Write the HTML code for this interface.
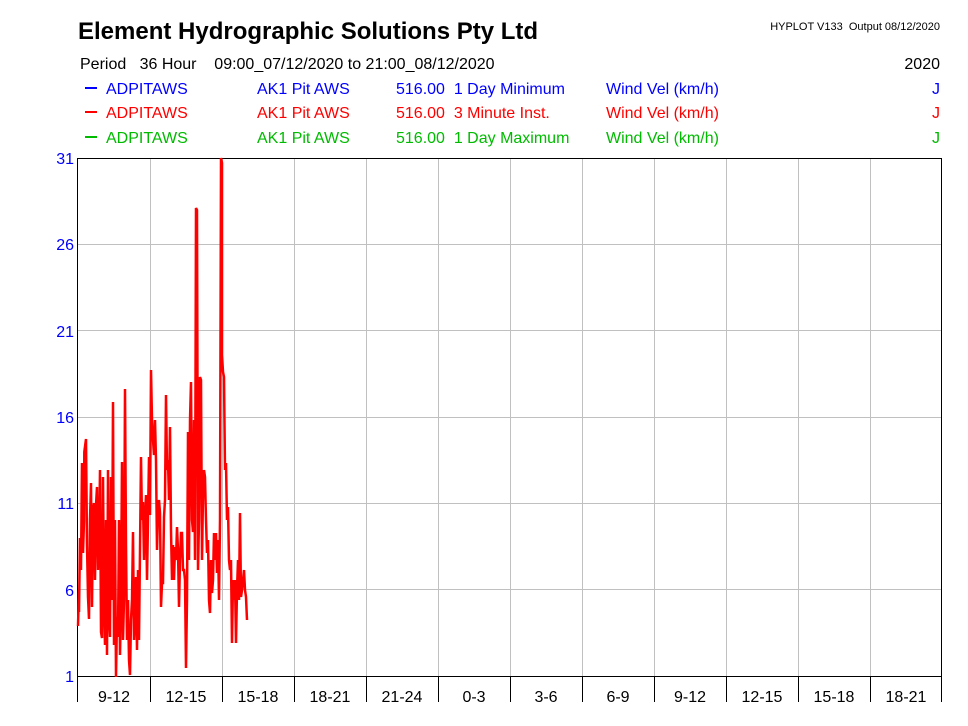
<!DOCTYPE html>
<html><head><meta charset="utf-8"><style>
body{margin:0;background:#fff;width:968px;height:726px;overflow:hidden}
svg{display:block}
text{font-family:"Liberation Sans",Arial,sans-serif;white-space:pre}
</style></head><body>
<svg width="968" height="726" viewBox="0 0 968 726" xmlns="http://www.w3.org/2000/svg" xml:space="preserve">
<text x="78" y="39" font-size="24" font-weight="bold" fill="#000">Element Hydrographic Solutions Pty Ltd</text>
<text x="940" y="30" font-size="11" fill="#000" text-anchor="end">HYPLOT V133  Output 08/12/2020</text>
<text x="80" y="69" font-size="16" fill="#000">Period   36 Hour    09:00_07/12/2020 to 21:00_08/12/2020</text>
<text x="940" y="69" font-size="16" fill="#000" text-anchor="end">2020</text>
<g font-size="16">
<line x1="85" y1="88" x2="97" y2="88" stroke="#0000ff" stroke-width="2"/>
<text x="106" y="94" fill="#0000ff">ADPITAWS</text><text x="257" y="94" fill="#0000ff">AK1 Pit AWS</text><text x="396" y="94" fill="#0000ff">516.00  1 Day Minimum</text><text x="606" y="94" fill="#0000ff">Wind Vel (km/h)</text><text x="940" y="94" fill="#0000ff" text-anchor="end">J</text>
<line x1="85" y1="112" x2="97" y2="112" stroke="#ff0000" stroke-width="2"/>
<text x="106" y="118" fill="#ff0000">ADPITAWS</text><text x="257" y="118" fill="#ff0000">AK1 Pit AWS</text><text x="396" y="118" fill="#ff0000">516.00  3 Minute Inst.</text><text x="606" y="118" fill="#ff0000">Wind Vel (km/h)</text><text x="940" y="118" fill="#ff0000" text-anchor="end">J</text>
<line x1="85" y1="137" x2="97" y2="137" stroke="#00bb00" stroke-width="2"/>
<text x="106" y="143" fill="#00bb00">ADPITAWS</text><text x="257" y="143" fill="#00bb00">AK1 Pit AWS</text><text x="396" y="143" fill="#00bb00">516.00  1 Day Maximum</text><text x="606" y="143" fill="#00bb00">Wind Vel (km/h)</text><text x="940" y="143" fill="#00bb00" text-anchor="end">J</text>
</g>
<g stroke="#c0c0c0" stroke-width="1">
<line x1="78" y1="244.5" x2="941" y2="244.5"/><line x1="78" y1="330.5" x2="941" y2="330.5"/><line x1="78" y1="417.5" x2="941" y2="417.5"/><line x1="78" y1="503.5" x2="941" y2="503.5"/><line x1="78" y1="589.5" x2="941" y2="589.5"/>
<line x1="150.5" y1="158" x2="150.5" y2="676"/><line x1="222.5" y1="158" x2="222.5" y2="676"/><line x1="294.5" y1="158" x2="294.5" y2="676"/><line x1="366.5" y1="158" x2="366.5" y2="676"/><line x1="438.5" y1="158" x2="438.5" y2="676"/><line x1="510.5" y1="158" x2="510.5" y2="676"/><line x1="582.5" y1="158" x2="582.5" y2="676"/><line x1="654.5" y1="158" x2="654.5" y2="676"/><line x1="726.5" y1="158" x2="726.5" y2="676"/><line x1="798.5" y1="158" x2="798.5" y2="676"/><line x1="870.5" y1="158" x2="870.5" y2="676"/>
</g>
<g stroke="#000" stroke-width="1">
<line x1="77.5" y1="158" x2="77.5" y2="702"/><line x1="941.5" y1="158" x2="941.5" y2="702"/>
<line x1="77" y1="158.5" x2="942" y2="158.5"/><line x1="77" y1="676.5" x2="942" y2="676.5"/>
<line x1="150.5" y1="676" x2="150.5" y2="702"/><line x1="222.5" y1="676" x2="222.5" y2="702"/><line x1="294.5" y1="676" x2="294.5" y2="702"/><line x1="366.5" y1="676" x2="366.5" y2="702"/><line x1="438.5" y1="676" x2="438.5" y2="702"/><line x1="510.5" y1="676" x2="510.5" y2="702"/><line x1="582.5" y1="676" x2="582.5" y2="702"/><line x1="654.5" y1="676" x2="654.5" y2="702"/><line x1="726.5" y1="676" x2="726.5" y2="702"/><line x1="798.5" y1="676" x2="798.5" y2="702"/><line x1="870.5" y1="676" x2="870.5" y2="702"/>
</g>
<g font-size="16" fill="#0000ff" text-anchor="end">
<text x="74" y="164">31</text><text x="74" y="250">26</text><text x="74" y="337">21</text><text x="74" y="423">16</text><text x="74" y="509">11</text><text x="74" y="596">6</text><text x="74" y="682">1</text>
</g>
<g font-size="16" fill="#000" text-anchor="middle">
<text x="114" y="702">9-12</text><text x="186" y="702">12-15</text><text x="258" y="702">15-18</text><text x="330" y="702">18-21</text><text x="402" y="702">21-24</text><text x="474" y="702">0-3</text><text x="546" y="702">3-6</text><text x="618" y="702">6-9</text><text x="690" y="702">9-12</text><text x="762" y="702">12-15</text><text x="834" y="702">15-18</text><text x="906" y="702">18-21</text>
</g>
<polyline fill="none" stroke="#ff0000" stroke-width="2.5" stroke-linejoin="miter" points="
78,626 79,590 79,612 80,538 81,570 82,463 83,553 84,521 84.3,452 86,439 87,545 88,597 89,619 90,520 91,483 92,607 93,510 94,503 95,580 96,505 97,487 98,570 99,545 100,470 101,632 102,638 103,477 104,600 105,645 106,520 107,655 108,470 109,617 110,637 111,477 112,600 113,402 114,645 115,520 116,677 117,617 118,637 119,520 120,655 121,600 122,462 123,640 124,600 125,389 126,545 127,640 128,600 129,660 130,675 131,620 132,600 133,532 134,640 135,620 136,577 137,650 138,570 139,640 140,550 141,457 142,520 143,502 144,560 145,520 146,495 147,580 148,520 149,457 150,515 151,370 152,420 153,440 154,455 155,420 156,460 157,550 158,513 159,500 160,513 161,607 162,583 163,583 164,517 165,500 166,395 167,470 168,460 169,500 170,427 171,530 172,580 173,545 174,580 175,547 176,560 177,527 178,550 179,607 180,560 181,533 182,533 183,570 184,570 185,580 186,668 187,600 188,432 189,560 190,420 191,382 192,520 193,532 194,420 195,560 196,208 197,210 198,570 199,520 200,377 201,380 202,560 203,495 204,470 205,477 206,520 207,553 208,540 209,600 210,613 211,560 212,593 213,580 214,533 215,560 216,533 217,573 218,540 219,600 220,520 221,158 222,163 222,355 223,372 224,377 225,470 226,463 227,520 228,507 229,560 230,570 231,560 232,643 233,580 234,600 235,580 236,643 237,590 238,560 239,600 240,513 241,597 242,590 243,580 244,570 245,590 246,597 247,620"/>
</svg>
</body></html>
